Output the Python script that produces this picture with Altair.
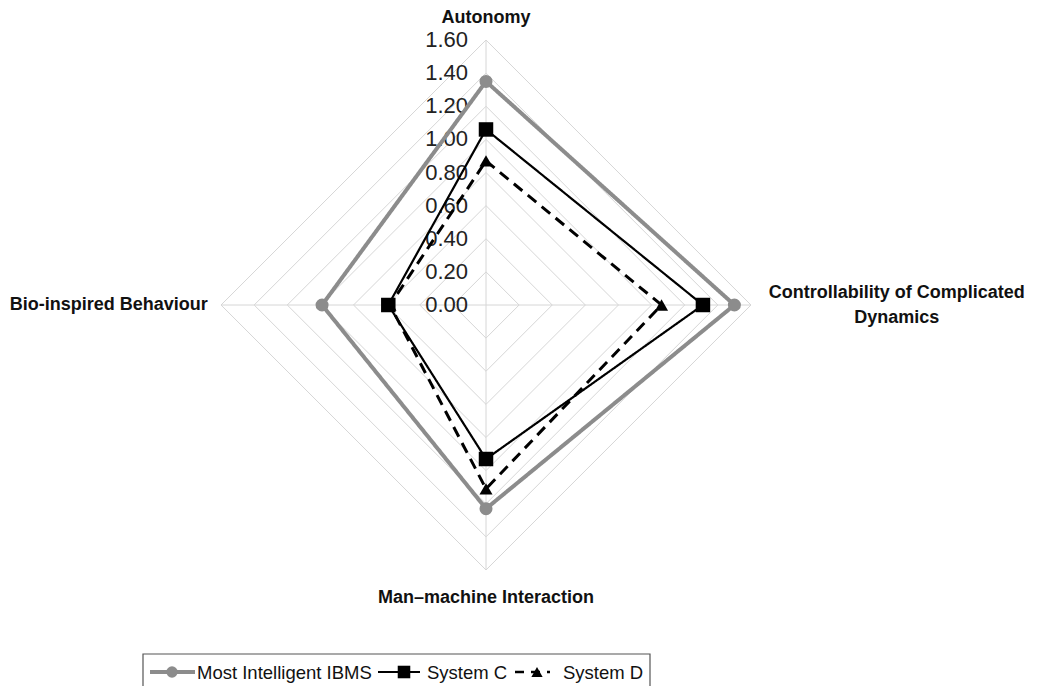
import altair as alt
import pandas as pd

# ---- data ----
categories = ["Autonomy", "Controllability of Complicated Dynamics",
              "Man\u2013machine Interaction", "Bio-inspired Behaviour"]
series_names = ["Most Intelligent IBMS", "System C", "System D"]
most_intelligent = [1.35, 1.50, 1.23, 0.99]
system_c = [1.06, 1.31, 0.93, 0.59]
system_d = [0.87, 1.06, 1.11, 0.58]
grid_levels = [0.2, 0.4, 0.6, 0.8, 1.0, 1.2, 1.4, 1.6]
tick_labels = ["0.00", "0.20", "0.40", "0.60", "0.80", "1.00", "1.20", "1.40", "1.60"]
tick_values = [0.0, 0.2, 0.4, 0.6, 0.8, 1.0, 1.2, 1.4, 1.6]

# ---- layout / style (not data) ----
W, H = 1021, 678
PX = 165.6          # pixels per unit
CX, CY = 478, 297   # centre in chart pixels
xdom = [-CX / PX, (W - CX) / PX]
ydom = [-(H - CY) / PX, CY / PX]
xs = alt.Scale(domain=xdom, range=[0, W], nice=False, zero=False)
ys = alt.Scale(domain=ydom, range=[H, 0], nice=False, zero=False)
FONT = "Liberation Sans"

n = len(categories)


def X():
    return alt.X("x:Q", scale=xs, axis=None)


def Y():
    return alt.Y("y:Q", scale=ys, axis=None)


def polar(ch):
    return ch.transform_calculate(
        ang="datum.idx * 2 * PI / %d" % n
    ).transform_calculate(
        x="datum.value * sin(datum.ang)",
        y="datum.value * cos(datum.ang)",
    )


# series table (closed polygon)
rows = []
for s, vals in zip(series_names, [most_intelligent, system_c, system_d]):
    for k in range(n + 1):
        i = k % n
        rows.append({"series": s, "cat": categories[i], "idx": i, "ord": k, "value": vals[i]})
sdf = pd.DataFrame(rows)

# grid table
grows = []
for lv in grid_levels:
    for k in range(n + 1):
        grows.append({"level": lv, "idx": k % n, "ord": k, "value": lv})
gdf = pd.DataFrame(grows)

spk = pd.DataFrame({"idx": list(range(n)), "value": [max(grid_levels)] * n})

GRID = "#d6d6d6"
grid = polar(alt.Chart(gdf)).mark_line(color=GRID, strokeWidth=1).encode(
    x=X(), y=Y(), detail="level:N", order="ord:Q")

spokes = polar(alt.Chart(spk)).transform_calculate(x0="0", y0="0").mark_rule(
    color=GRID, strokeWidth=1).encode(
    x=X(), y=Y(), x2="x0:Q", y2="y0:Q")

tdf = pd.DataFrame({"value": tick_values, "label": tick_labels})
ticks = alt.Chart(tdf).transform_calculate(x="0", y="datum.value").mark_text(
    align="right", baseline="middle", dx=-18, fontSize=22, font=FONT, color="#222222").encode(
    x=X(), y=Y(), text="label:N")

colors = {"Most Intelligent IBMS": "#8c8c8c", "System C": "#000000", "System D": "#000000"}
widths = {"Most Intelligent IBMS": 4, "System C": 2.2, "System D": 3}
dashes = {"Most Intelligent IBMS": [1, 0], "System C": [1, 0], "System D": [11, 7]}
shapes = {"Most Intelligent IBMS": "circle", "System C": "square", "System D": "triangle-up"}
sizes = {"Most Intelligent IBMS": 170, "System C": 210, "System D": 170}

series_layers = []
for s in series_names:
    base = polar(alt.Chart(sdf)).transform_filter(alt.datum.series == s)
    line = base.mark_line(color=colors[s], strokeWidth=widths[s], strokeDash=dashes[s]).encode(
        x=X(), y=Y(), order="ord:Q")
    pts = base.transform_filter(alt.datum.ord < n).mark_point(
        shape=shapes[s], filled=True, size=sizes[s], color=colors[s], opacity=1).encode(
        x=X(), y=Y())
    series_layers += [line, pts]

# category labels
lab_r = [1.735, 2.48, 1.77, 1.68]
lab_align = ["center", "center", "center", "right"]
labs = []
for i, c in enumerate(categories):
    txt = c
    if c.startswith("Controllability"):
        txt = ["Controllability of Complicated", "Dynamics"]
    ldf = pd.DataFrame({"idx": [i], "value": [lab_r[i]]})
    labs.append(polar(alt.Chart(ldf)).mark_text(
        text=txt, align=lab_align[i], baseline="middle", fontSize=18, fontWeight="bold",
        font=FONT, color="#111111", lineHeight=25, dy=(-12 if isinstance(txt, list) else 0)).encode(
        x=X(), y=Y()))

# legend (pixel-placed)
lg_box = alt.Chart(pd.DataFrame({"a": [0]})).mark_rect(
    fill="white", stroke="#555555", strokeWidth=1.2).encode(
    x=alt.value(135), x2=alt.value(642), y=alt.value(646), y2=alt.value(H + 4))
legend_x = {"Most Intelligent IBMS": (142, 187, 164, 189),
            "System C": (370, 412, 396, 419),
            "System D": (507, 542, 529, 555)}
lg = [lg_box]
ly = 664
for s in series_names:
    x0, x1, xm, tx = legend_x[s]
    ldf = pd.DataFrame({"series": [s]})
    lg.append(alt.Chart(ldf).mark_rule(color=colors[s], strokeWidth=widths[s] if s != "System D" else 2.5,
                                       strokeDash=[9, 7] if s == "System D" else [1, 0]).encode(
        x=alt.value(x0), x2=alt.value(x1), y=alt.value(ly), y2=alt.value(ly)))
    lg.append(alt.Chart(ldf).mark_point(shape=shapes[s], filled=True, size=sizes[s] * 0.75,
                                        color=colors[s], opacity=1).encode(
        x=alt.value(xm), y=alt.value(ly)))
    lg.append(alt.Chart(ldf).mark_text(align="left", baseline="middle", fontSize=18.5,
                                       font=FONT, color="#111111").encode(
        x=alt.value(tx), y=alt.value(ly + 1), text="series:N"))

chart = alt.layer(grid, spokes, ticks, *series_layers, *labs, *lg).properties(
    width=W, height=H, padding=0, autosize="none", background="white"
).configure_view(strokeWidth=0, stroke=None)

chart.save("out.html", embed_options={"renderer": "svg", "actions": False})
